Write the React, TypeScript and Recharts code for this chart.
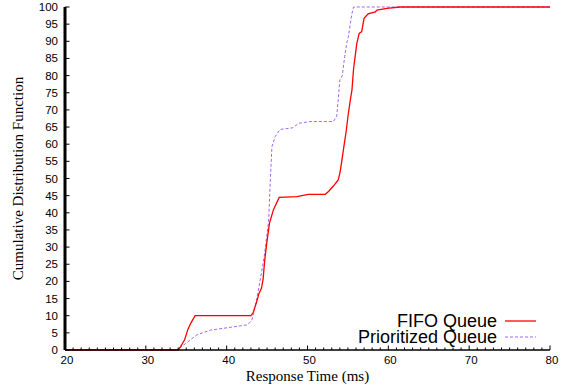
import { Line, LineChart, XAxis, YAxis } from 'recharts'

// Response time (ms) and cumulative percentage
const fifoTime = [
  20, 34.0, 34.3, 34.8, 35.2, 35.6, 36.1, 43.0, 43.3, 43.7, 44.0, 44.3, 44.5, 44.7, 44.95, 45.3,
  45.8, 46.5, 48.7, 50.1, 52.2, 52.6, 53.2, 53.8, 54.0, 54.2, 54.5, 54.8, 55.0, 55.3, 55.5, 55.7,
  56.1, 56.4, 56.7, 57.0, 57.5, 58.4, 58.6, 59.8, 61.5, 80,
]
const fifoCdf = [
  0, 0, 1, 3, 6, 8, 10, 10, 11, 14, 16.5, 18, 20.5, 26, 31, 37, 41, 44.5, 44.7, 45.4, 45.4, 46.2,
  47.8, 49.6, 51.5, 54.4, 59.3, 64, 68, 72.9, 75.8, 82, 89.4, 92.3, 92.8, 96.7, 98, 98.6, 99.1, 99.6,
  100, 100,
]

const prioTime = [
  20, 33.8, 35.0, 36.3, 38.0, 42.5, 43.1, 43.7, 44.3, 44.7, 45.2, 45.4, 45.6, 46.0, 46.6, 48.2, 48.9,
  50.3, 53.2, 53.6, 53.8, 54.0, 54.3, 54.6, 54.85, 55.05, 55.3, 55.5, 55.7, 80,
]
const prioCdf = [
  0, 0, 2, 4.4, 5.8, 7.3, 8.5, 14.6, 22.4, 28.2, 37.9, 49.6, 59.3, 62.2, 64.3, 64.8, 66.1, 66.6, 66.6,
  68, 72.9, 78.7, 80, 85.5, 89.4, 91.3, 95.2, 98.1, 100, 100,
]

const xMajor = [20, 30, 40, 50, 60, 70, 80]
const yTicks = [0, 5, 10, 15, 20, 25, 30, 35, 40, 45, 50, 55, 60, 65, 70, 75, 80, 85, 90, 95, 100]
// one tick per ms; majors (labelled) every 10 ms
const xTicks = Array.from({ length: 61 }, (_, i) => 20 + i)

const SANS = '"Liberation Sans", Arial, Helvetica, sans-serif'
const SERIF = '"Liberation Serif", "Times New Roman", serif'
const FIFO_COLOR = '#ff0000'
const PRIO_COLOR = '#a366f5'

const toPoints = (t: number[], v: number[]) => t.map((x, i) => ({ t: x, cdf: v[i] }))

// gnuplot-style ticks: drawn inward from the border, labels outside
type TickProps = { x: number; y: number; payload: { value: number } }
const isMajor = (v: number) => xMajor.includes(v)

const bottomTick = ({ x, y, payload }: TickProps) => {
  const major = isMajor(payload.value)
  return (
    <g>
      <line x1={x} x2={x} y1={y} y2={y - (major ? 4.5 : 2.5)} stroke="#000" />
      {major && (
        <text x={x + 2} y={y + 14} textAnchor="middle" fontFamily={SANS} fontSize={11.5} fill="#000">
          {payload.value}
        </text>
      )}
    </g>
  )
}
const topTick = ({ x, y, payload }: TickProps) => (
  <line x1={x} x2={x} y1={y} y2={y + (isMajor(payload.value) ? 4.5 : 2.5)} stroke="#000" />
)
const leftTick = ({ x, y, payload }: TickProps) => (
  <g>
    <line x1={x} x2={x + 4.5} y1={y} y2={y} stroke="#000" />
    <text x={x - 7} y={y + 4} textAnchor="end" fontFamily={SANS} fontSize={11.5} fill="#000">
      {payload.value}
    </text>
  </g>
)
const rightTick = ({ x, y }: TickProps) => <line x1={x} x2={x - 4.5} y1={y} y2={y} stroke="#000" />

function LegendRow({ label, color, dashed }: { label: string; color: string; dashed?: boolean }) {
  return (
    <div style={{ display: 'flex', alignItems: 'center', height: 16 }}>
      <span style={{ flex: 1, textAlign: 'right', fontFamily: SANS, fontSize: 18, lineHeight: '16px', color: '#000' }}>
        {label}
      </span>
      <svg width={39} height={16} style={{ display: 'block' }}>
        <line
          x1={8}
          x2={39}
          y1={8}
          y2={8}
          stroke={color}
          strokeWidth={dashed ? 1 : 1.3}
          strokeDasharray={dashed ? '3 2' : undefined}
        />
      </svg>
    </div>
  )
}

export default function App() {
  const fifo = toPoints(fifoTime, fifoCdf)
  const prio = toPoints(prioTime, prioCdf)

  return (
    <div style={{ position: 'absolute', left: 0, top: 0, width: 564, height: 385, background: '#fff' }}>
      <LineChart width={564} height={385} margin={{ top: 7, right: 14, bottom: 0, left: 0 }}>
        <XAxis
          type="number"
          dataKey="t"
          domain={[20, 80]}
          ticks={xTicks}
          interval={0}
          height={35}
          axisLine={{ stroke: '#000', strokeWidth: 1.5 }}
          tickLine={false}
          tickSize={0}
          tickMargin={0}
          tick={bottomTick}
          label={{
            content: () => (
              <text x={307.5} y={381} textAnchor="middle" fontFamily={SERIF} fontSize={15} fill="#000">
                Response Time (ms)
              </text>
            ),
          }}
        />
        <XAxis
          xAxisId="top"
          orientation="top"
          type="number"
          dataKey="t"
          domain={[20, 80]}
          ticks={xTicks}
          interval={0}
          height={0}
          axisLine={{ stroke: '#000', strokeWidth: 2 }}
          tickLine={false}
          tickSize={0}
          tickMargin={0}
          tick={topTick}
        />
        <YAxis
          type="number"
          domain={[0, 100]}
          ticks={yTicks}
          interval={0}
          width={65}
          axisLine={{ stroke: '#000', strokeWidth: 3 }}
          tickLine={false}
          tickSize={0}
          tickMargin={0}
          tick={leftTick}
          label={{
            content: () => (
              <text
                x={20}
                y={178.5}
                transform="rotate(-90, 20, 178.5)"
                textAnchor="middle"
                dominantBaseline="middle"
                fontFamily={SERIF}
                fontSize={15}
                fill="#000"
              >
                Cumulative Distribution Function
              </text>
            ),
          }}
        />
        <YAxis
          yAxisId="right"
          orientation="right"
          type="number"
          domain={[0, 100]}
          ticks={yTicks}
          interval={0}
          width={0}
          axisLine={{ stroke: '#000', strokeWidth: 3 }}
          tickLine={false}
          tickSize={0}
          tickMargin={0}
          tick={rightTick}
        />
        {/* invisible copy bound to the top/right axes so Recharts draws the mirrored border */}
        <Line
          data={prio}
          dataKey="cdf"
          xAxisId="top"
          yAxisId="right"
          stroke="none"
          dot={false}
          activeDot={false}
          legendType="none"
          isAnimationActive={false}
        />
        <Line
          data={prio}
          dataKey="cdf"
          type="linear"
          stroke={PRIO_COLOR}
          strokeWidth={1}
          strokeDasharray="3 2"
          dot={false}
          activeDot={false}
          isAnimationActive={false}
        />
        <Line
          data={fifo}
          dataKey="cdf"
          type="linear"
          stroke={FIFO_COLOR}
          strokeWidth={1.3}
          dot={false}
          activeDot={false}
          isAnimationActive={false}
        />
      </LineChart>
      <div style={{ position: 'absolute', left: 280, top: 313, width: 256 }}>
        <LegendRow label="FIFO Queue" color={FIFO_COLOR} />
        <LegendRow label="Prioritized Queue" color={PRIO_COLOR} dashed />
      </div>
    </div>
  )
}
